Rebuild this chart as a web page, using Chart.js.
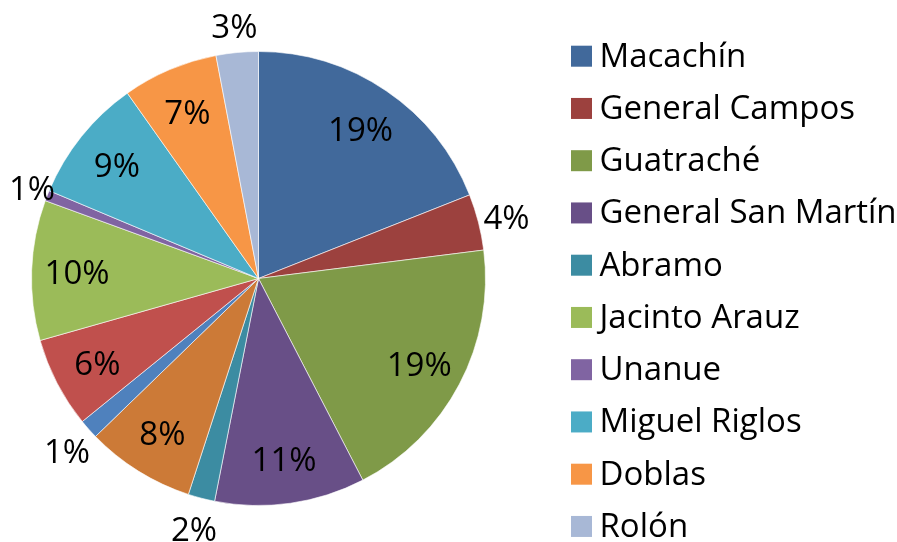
<!DOCTYPE html>
<html>
<head>
<meta charset="utf-8">
<script src="https://cdn.jsdelivr.net/npm/chart.js@4"></script>
<style>
  html, body { margin: 0; padding: 0; background: #fff; }
  #wrap { width: 897px; height: 542px; }
</style>
</head>
<body>
<div id="wrap"><canvas id="pieChart" width="897" height="542"></canvas></div>
<script>
// slices in clockwise order from 12 o'clock (three slices have no legend entry in the picture)
const LOCALIDADES = ['Macachín', 'General Campos', 'Guatraché', 'General San Martín', 'Abramo',
  '', '', '', 'Jacinto Arauz', 'Unanue', 'Miguel Riglos', 'Doblas', 'Rolón'];
const PARTICIPACION = [19.0, 4.0, 19.4, 10.7, 1.9, 7.75, 1.4, 6.45, 9.97, 0.75, 8.88, 6.8, 3.0];
const COLORES = ['#41699B', '#9C413E', '#7F9A48', '#684F87', '#3C8CA2', '#CC7A37',
  '#4F81BD', '#C0504D', '#9BBB59', '#8064A2', '#4BACC6', '#F79646', '#A8B8D6'];

const FONT_FAMILY = '"Open Sans", sans-serif';
const FONT_SIZE = 33;

// percentage labels: inside for big slices, outside for small ones
const pctLabels = {
  id: 'pctLabels',
  afterDatasetsDraw(chart) {
    const ctx = chart.ctx;
    const meta = chart.getDatasetMeta(0);
    const values = chart.data.datasets[0].data;
    const total = values.reduce((a, b) => a + b, 0);
    ctx.save();
    ctx.font = FONT_SIZE + 'px ' + FONT_FAMILY;
    ctx.fillStyle = '#000';
    ctx.textAlign = 'center';
    ctx.textBaseline = 'alphabetic';
    meta.data.forEach((arc, i) => {
      const pct = Math.round(values[i] / total * 100);
      const text = pct + '%';
      const { x, y, startAngle, endAngle, outerRadius } =
        arc.getProps(['x', 'y', 'startAngle', 'endAngle', 'outerRadius'], true);
      const mid = (startAngle + endAngle) / 2;
      const inside = pct >= 5;
      const dist = inside ? outerRadius * 0.8 : outerRadius + 29;
      const halfW = ctx.measureText(text).width / 2;
      // keep outside labels within the canvas, like Excel does
      const tx = Math.max(x + Math.cos(mid) * dist, halfW + 9);
      const ty = y + Math.sin(mid) * dist + FONT_SIZE * 0.35 + (inside ? 1 : 3);
      ctx.fillText(text, tx, ty);
    });
    ctx.restore();
  }
};

// legend on the right, only the named localities
const sideLegend = {
  id: 'sideLegend',
  afterDraw(chart) {
    const ctx = chart.ctx;
    ctx.save();
    ctx.font = FONT_SIZE + 'px ' + FONT_FAMILY;
    ctx.textAlign = 'left';
    ctx.textBaseline = 'alphabetic';
    let row = 0;
    LOCALIDADES.forEach((name, i) => {
      if (!name) return;
      const base = 66.7 + row * 52.25;
      ctx.fillStyle = COLORES[i];
      ctx.fillRect(571, base - 21, 21, 21);
      ctx.fillStyle = '#000';
      ctx.fillText(name, 599.5, base);
      row++;
    });
    ctx.restore();
  }
};

new Chart(document.getElementById('pieChart').getContext('2d'), {
  type: 'pie',
  data: {
    labels: LOCALIDADES,
    datasets: [{
      data: PARTICIPACION,
      backgroundColor: COLORES,
      borderColor: 'rgba(255,255,255,0.6)',
      borderWidth: 1
    }]
  },
  options: {
    responsive: false,
    animation: false,
    layout: { padding: { left: 31, right: 411, top: 51, bottom: 36 } },
    plugins: {
      legend: { display: false },
      tooltip: { enabled: false }
    }
  },
  plugins: [pctLabels, sideLegend]
});
</script>
</body>
</html>
